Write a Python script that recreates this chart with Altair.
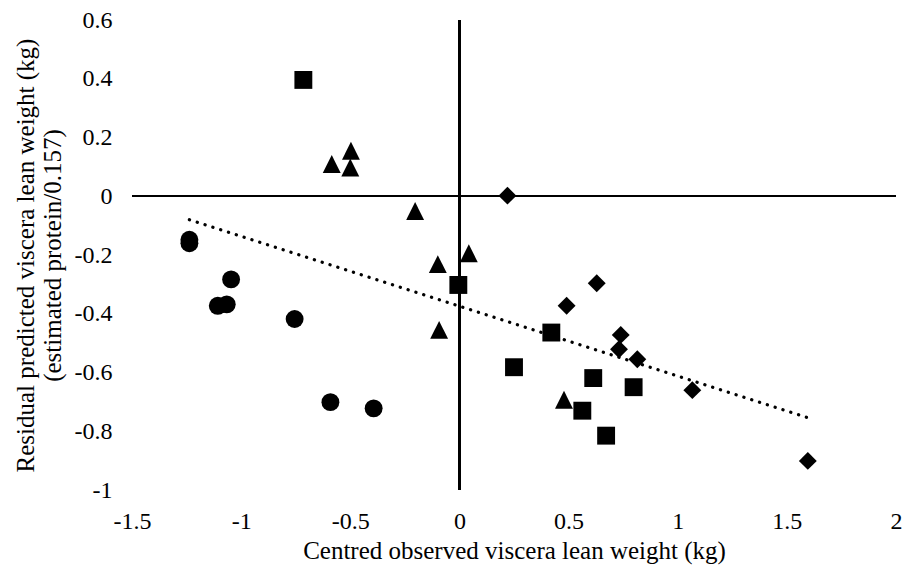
import altair as alt
import pandas as pd

# Observations per group: centred observed viscera lean weight (x)
# and residual predicted viscera lean weight (y), both in kg.
circle_x = [-1.237, -1.237, -1.046, -1.107, -1.066, -0.755, -0.591, -0.393]
circle_y = [-0.148, -0.160, -0.283, -0.373, -0.368, -0.418, -0.701, -0.722]

square_x = [-0.715, -0.005, 0.421, 0.250, 0.613, 0.798, 0.563, 0.672]
square_y = [0.396, -0.302, -0.464, -0.582, -0.619, -0.650, -0.730, -0.815]

triangle_x = [-0.585, -0.497, -0.500, -0.203, -0.099, 0.043, -0.093, 0.479]
triangle_y = [0.110, 0.155, 0.098, -0.050, -0.231, -0.194, -0.455, -0.693]

diamond_x = [0.220, 0.629, 0.491, 0.739, 0.731, 0.815, 1.067, 1.596]
diamond_y = [0.002, -0.296, -0.373, -0.472, -0.521, -0.555, -0.660, -0.901]

x_ticks = [-1.5, -1, -0.5, 0, 0.5, 1, 1.5, 2]
y_ticks = [-1, -0.8, -0.6, -0.4, -0.2, 0, 0.2, 0.4, 0.6]

groups = ["circle", "square", "triangle", "diamond"]
frames = []
for name, xs, ys in zip(
    groups,
    [circle_x, square_x, triangle_x, diamond_x],
    [circle_y, square_y, triangle_y, diamond_y],
):
    frames.append(pd.DataFrame({"x": xs, "y": ys, "group": name}))
df = pd.concat(frames, ignore_index=True)

FONT = "Liberation Serif"

x_enc = alt.X(
    "x:Q",
    scale=alt.Scale(domain=[-1.5, 2], nice=False, zero=False),
    axis=alt.Axis(
        values=x_ticks,
        labelExpr="datum.value + ''",
        title="Centred observed viscera lean weight (kg)",
        domain=False,
        ticks=False,
        tickSize=0,
        grid=False,
        labelFlush=False,
        labelOverlap=False,
        labelFont=FONT,
        titleFont=FONT,
        labelPadding=19,
        titlePadding=5,
    ),
)
y_enc = alt.Y(
    "y:Q",
    scale=alt.Scale(domain=[-1, 0.6], nice=False, zero=False),
    axis=alt.Axis(
        values=y_ticks,
        labelExpr="datum.value + ''",
        title=["Residual predicted viscera lean weight (kg)", "(estimated protein/0.157)"],
        domain=False,
        ticks=False,
        tickSize=0,
        grid=False,
        labelFlush=False,
        labelOverlap=False,
        labelFont=FONT,
        titleFont=FONT,
        labelPadding=20,
        titlePadding=9,
        titleLineHeight=27,
    ),
)

base = alt.Chart(df)

points = base.mark_point(filled=True, opacity=1, color="black", size=320).encode(
    x=x_enc,
    y=y_enc,
    shape=alt.Shape(
        "group:N",
        scale=alt.Scale(
            domain=groups,
            range=["circle", "square", "M0,-1L1,1L-1,1Z", "diamond"],
        ),
        legend=None,
    ),
)

# least-squares trend through all observations, drawn as a dotted line
trend = (
    base.transform_regression("x", "y")
    .mark_line(color="black", strokeWidth=3.3, strokeCap="round", strokeDash=[0.1, 8.1])
    .encode(x="x:Q", y="y:Q")
)

v_axis = alt.Chart(df).mark_rule(color="black", strokeWidth=1.6).encode(x=alt.datum(0))
h_axis = alt.Chart(df).mark_rule(color="black", strokeWidth=1.6).encode(y=alt.datum(0))

chart = (
    alt.layer(v_axis, h_axis, trend, points)
    .properties(
        width=764,
        height=470,
        autosize=alt.AutoSizeParams(type="none"),
        padding={"left": 132, "top": 20, "right": 6, "bottom": 82},
        background="white",
    )
    .configure(font=FONT)
    .configure_view(stroke=None)
    .configure_axis(
        labelFont=FONT,
        titleFont=FONT,
        labelFontSize=24,
        titleFontSize=25,
        titleFontWeight="normal",
        labelColor="black",
        titleColor="black",
    )
)

chart.save("out.html", embed_options={"renderer": "svg", "actions": False})
